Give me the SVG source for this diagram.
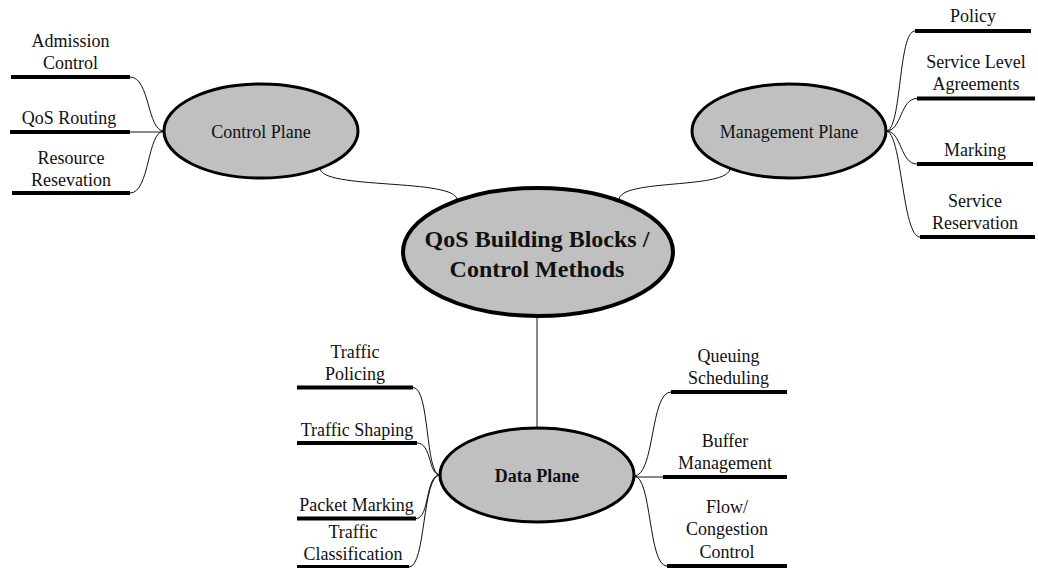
<svg xmlns="http://www.w3.org/2000/svg" width="1038" height="568" viewBox="0 0 1038 568">
  <style>
    text { font-family: "Liberation Serif", "Times New Roman", serif; font-size: 18px; fill: #111; text-anchor: middle; }
    .bold { font-weight: bold; }
    .title { font-size: 24px; font-weight: bold; }
    .bar { stroke: #000; stroke-width: 4; fill: none; }
    .link { stroke: #111; stroke-width: 1; fill: none; }
    .plane { fill: #c0c0c0; stroke: #000; stroke-width: 3; }
    .core { fill: #c0c0c0; stroke: #000; stroke-width: 4; }
  </style>
  <rect width="1038" height="568" fill="#fff"/>

  <!-- connectors -->
  <g id="connectors">
    <!-- core to planes -->
    <path class="link" d="M320,168 C320,190 457,178 457,200"/>
    <path class="link" d="M730,168 C730,190 619,178 619,200"/>
    <path class="link" d="M537,316 V428"/>
    <!-- control plane branches -->
    <path class="link" d="M164,131 C147,131 150,77 130,77"/>
    <path class="link" d="M164,132 H130"/>
    <path class="link" d="M164,131 C147,131 150,193 130,193"/>
    <!-- management plane branches -->
    <path class="link" d="M886,131 C902,131 898,31 915,31"/>
    <path class="link" d="M886,131 C902,131 900,98.5 917,98.5"/>
    <path class="link" d="M886,131 C902,131 900,164 917,164"/>
    <path class="link" d="M886,131 C902,131 902,237 920,237"/>
    <!-- data plane branches -->
    <path class="link" d="M440,475 C425,475 430,387.5 413,387.5"/>
    <path class="link" d="M440,475 C428,475 432,443 417,443"/>
    <path class="link" d="M440,475 C425,475 430,518.5 416,518.5"/>
    <path class="link" d="M440,475 C422,475 426,567 409,567"/>
    <path class="link" d="M634,476 C655,476 650,392 671,392"/>
    <path class="link" d="M634,477 H663"/>
    <path class="link" d="M634,476 C652,476 648,566 667,566"/>
  </g>

  <!-- central node -->
  <g id="qos-building-blocks">
    <ellipse class="core" cx="538" cy="252" rx="135" ry="64"/>
    <text class="title" x="537" y="247">QoS Building Blocks /</text>
    <text class="title" x="537" y="277">Control Methods</text>
  </g>

  <!-- planes -->
  <g id="control-plane">
    <ellipse class="plane" cx="261" cy="131" rx="97" ry="47"/>
    <text x="261" y="137.5">Control Plane</text>
  </g>
  <g id="management-plane">
    <ellipse class="plane" cx="789" cy="131" rx="97" ry="47"/>
    <text x="789" y="137.5">Management Plane</text>
  </g>
  <g id="data-plane">
    <ellipse class="plane" cx="537" cy="475" rx="97" ry="47"/>
    <text class="bold" x="537" y="482">Data Plane</text>
  </g>

  <!-- control plane leaves -->
  <g id="admission-control">
    <line class="bar" x1="11" y1="77" x2="130" y2="77"/>
    <text x="70.5" y="47">Admission</text>
    <text x="70.5" y="69">Control</text>
  </g>
  <g id="qos-routing">
    <line class="bar" x1="10" y1="132" x2="130" y2="132"/>
    <text x="69" y="123.5">QoS Routing</text>
  </g>
  <g id="resource-resevation">
    <line class="bar" x1="12" y1="193" x2="130" y2="193"/>
    <text x="71" y="163.5">Resource</text>
    <text x="71" y="185.5">Resevation</text>
  </g>

  <!-- management plane leaves -->
  <g id="policy">
    <line class="bar" x1="915" y1="31" x2="1031" y2="31"/>
    <text x="973" y="22">Policy</text>
  </g>
  <g id="service-level-agreements">
    <line class="bar" x1="917" y1="98.5" x2="1035" y2="98.5"/>
    <text x="976" y="67.5">Service Level</text>
    <text x="976" y="89.5">Agreements</text>
  </g>
  <g id="marking">
    <line class="bar" x1="917" y1="164" x2="1033" y2="164"/>
    <text x="975" y="156">Marking</text>
  </g>
  <g id="service-reservation">
    <line class="bar" x1="920" y1="237" x2="1035" y2="237"/>
    <text x="975" y="206.5">Service</text>
    <text x="975" y="228.5">Reservation</text>
  </g>

  <!-- data plane leaves -->
  <g id="traffic-policing">
    <line class="bar" x1="297" y1="387.5" x2="413" y2="387.5"/>
    <text x="355" y="357.5">Traffic</text>
    <text x="355" y="379.5">Policing</text>
  </g>
  <g id="traffic-shaping">
    <line class="bar" x1="297" y1="443" x2="417" y2="443"/>
    <text x="357" y="435.5">Traffic Shaping</text>
  </g>
  <g id="packet-marking">
    <line class="bar" x1="297" y1="518.5" x2="416" y2="518.5"/>
    <text x="356.5" y="510.5">Packet Marking</text>
  </g>
  <g id="traffic-classification">
    <line class="bar" x1="297" y1="567" x2="409" y2="567"/>
    <text x="353" y="537.5">Traffic</text>
    <text x="353" y="559.5">Classification</text>
  </g>
  <g id="queuing-scheduling">
    <line class="bar" x1="671" y1="392" x2="787" y2="392"/>
    <text x="728.5" y="362">Queuing</text>
    <text x="728.5" y="383.5">Scheduling</text>
  </g>
  <g id="buffer-management">
    <line class="bar" x1="663" y1="477" x2="787" y2="477"/>
    <text x="725" y="447">Buffer</text>
    <text x="725" y="469">Management</text>
  </g>
  <g id="flow-congestion-control">
    <line class="bar" x1="667" y1="566" x2="787" y2="566"/>
    <text x="727" y="513">Flow/</text>
    <text x="727" y="535">Congestion</text>
    <text x="727" y="557.5">Control</text>
  </g>
</svg>
